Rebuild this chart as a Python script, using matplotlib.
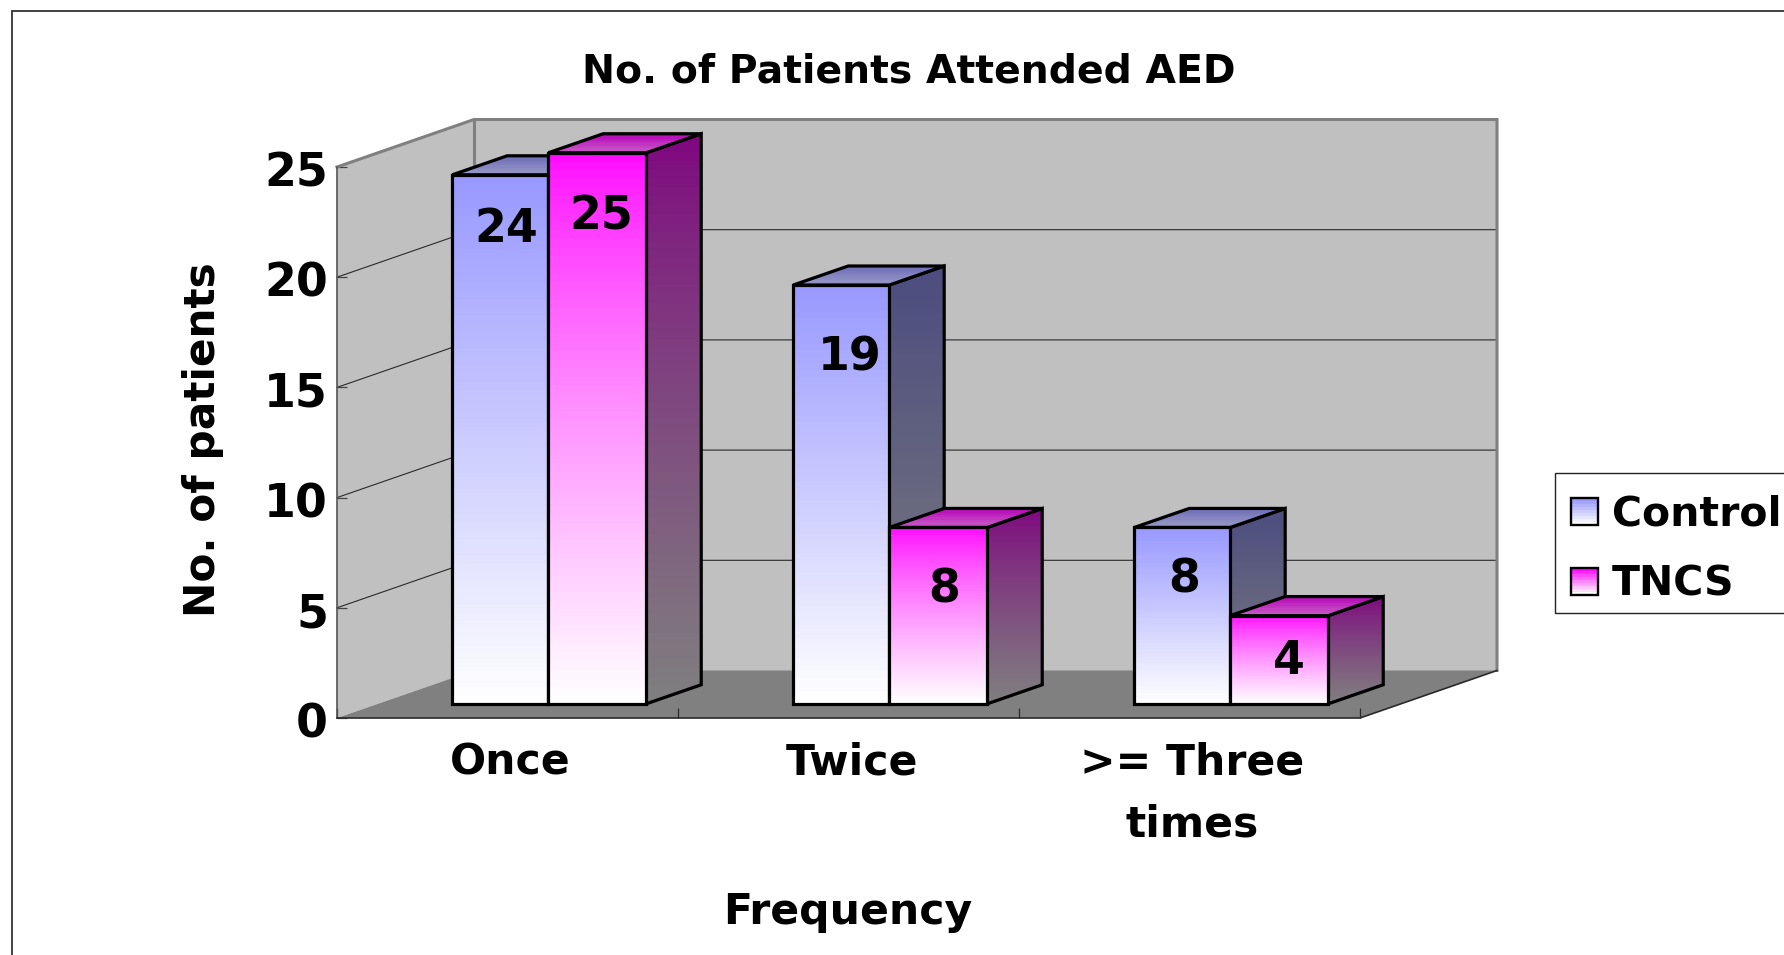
import numpy as np
import matplotlib
matplotlib.use("Agg")
import matplotlib.pyplot as plt
from matplotlib.patches import Polygon, Rectangle
from matplotlib.lines import Line2D
from matplotlib.transforms import ScaledTranslation

# ---- chart data ----
categories = ["Once", "Twice", ">= Three\ntimes"]
series_names = ["Control", "TNCS"]
control_values = [24, 19, 8]
tncs_values = [25, 8, 4]
y_ticks = [0, 5, 10, 15, 20, 25]

# value label offsets below each bar top, and sideways from the bar centre (pixels)
control_label_drop = [55, 73, 53]
tncs_label_drop = [64, 63, 46]
control_label_side = [6, 8, 2]
tncs_label_side = [4, 6, 9]

# ---- colours ----
WALL = "#c0c0c0"
FLOOR = "#808080"
EDGE = "#000000"
BLUE = np.array([0x99, 0x99, 0xff]) / 255
MAGENTA = np.array([0xff, 0x0c, 0xff]) / 255
WHITE = np.array([1.0, 1.0, 1.0])

FONT = "DejaVu Sans"
W, H = 1784, 955
fig = plt.figure(figsize=(W / 100, H / 100), dpi=100, facecolor="white")

# the axes rectangle is the front plane of the 3-D box
L, R, T, B = 337, 1360, 167, 718
ax = fig.add_axes([L / W, 1 - B / H, (R - L) / W, (B - T) / H])
ax.patch.set_visible(False)
for s in ax.spines.values():
    s.set_visible(False)

n_cat = len(categories)
y_max = max(y_ticks)
DX = 137 / ((R - L) / n_cat)      # box depth along x, in category units
DY = 47.5 / ((B - T) / y_max)     # box depth along y, in value units
BAR_W_CONTROL = 0.2815
BAR_W_TNCS = 0.2875
BAR_START = 0.2179
D_FRONT, D_BACK = 0.300, 0.700


def proj(x, y, d):
    return (x + d * DX, y + d * DY)


def poly(points, **kw):
    kw.setdefault("clip_on", False)
    p = Polygon(points, closed=True, **kw)
    ax.add_patch(p)
    return p


def gradient_face(points, top_col, bottom_col, z, bands=64, power=1.0):
    """Fill a polygon with a finely banded vertical gradient."""
    xs = [p[0] for p in points]
    ys = [p[1] for p in points]
    t = (np.linspace(0, 1, bands)[:, None]) ** power
    img = (top_col[None, :] * (1 - t) + bottom_col[None, :] * t)[:, None, :]
    im = ax.imshow(img, extent=[min(xs), max(xs), min(ys), max(ys)], origin="upper",
                   aspect="auto", interpolation="nearest", zorder=z)
    clip = poly(points, facecolor="none", edgecolor="none", zorder=z)
    im.set_clip_box(fig.bbox)
    im.set_clip_path(clip)
    poly(points, facecolor="none", edgecolor=EDGE, linewidth=2.3,
         joinstyle="miter", zorder=z + 0.1)


def bar3d(x0, width, value, colour, z, power):
    x1 = x0 + width
    f_bl = proj(x0, 0, D_FRONT)
    f_br = proj(x1, 0, D_FRONT)
    f_tl = proj(x0, value, D_FRONT)
    f_tr = proj(x1, value, D_FRONT)
    b_br = proj(x1, 0, D_BACK)
    b_tl = proj(x0, value, D_BACK)
    b_tr = proj(x1, value, D_BACK)
    # right-hand side, darker than the front
    gradient_face([f_br, b_br, b_tr, f_tr], colour * 0.5, WHITE * 0.5, z, power=power)
    # top face, fading towards the viewer
    gradient_face([f_tl, f_tr, b_tr, b_tl], colour * 0.72,
                  colour * 0.45 + WHITE * 0.33, z + 0.2, bands=8)
    # front face
    gradient_face([f_bl, f_br, f_tr, f_tl], colour, WHITE, z + 0.4, power=power)


# ---- box: side wall, back wall, floor, gridlines ----
corner_bl = proj(0, 0, 1)
corner_br = proj(n_cat, 0, 1)
corner_tl = proj(0, y_max, 1)
corner_tr = proj(n_cat, y_max, 1)
poly([(0, 0), corner_bl, corner_tl, (0, y_max)], facecolor=WALL, edgecolor="none", zorder=1)
poly([corner_bl, corner_br, corner_tr, corner_tl], facecolor=WALL, edgecolor="none", zorder=1)
poly([(0, 0), (n_cat, 0), corner_br, corner_bl], facecolor=FLOOR, edgecolor="none", zorder=1.2)

for v in y_ticks[1:-1]:
    back_l = proj(0, v, 1)
    back_r = proj(n_cat, v, 1)
    ax.add_line(Line2D([0, back_l[0], back_r[0]], [v, back_l[1], back_r[1]], color="#2a2a2a",
                       linewidth=0.8, clip_on=False, zorder=1.5))

# heavier grey rim around the back of the box
rim = dict(color="#808080", linewidth=2.2, clip_on=False, zorder=1.6, solid_joinstyle="miter")
ax.add_line(Line2D([0, corner_tl[0], corner_tr[0], corner_br[0]],
                   [y_max, corner_tl[1], corner_tr[1], corner_br[1]], **rim))
ax.add_line(Line2D([corner_tl[0], corner_bl[0]], [corner_tl[1], corner_bl[1]],
                   color="#808080", linewidth=2.2, clip_on=False, zorder=1.3))
ax.add_line(Line2D([0, 0], [0, y_max], color="#555555", linewidth=1.2, clip_on=False, zorder=1.7))
ax.add_line(Line2D([0, n_cat, corner_br[0]], [0, 0, corner_br[1]], color="#2a2a2a",
                   linewidth=1.2, clip_on=False, zorder=1.7))

# ---- bars and value labels ----
for i in range(n_cat):
    base = 10 + i * 2
    x_c = i + BAR_START
    x_t = x_c + BAR_W_CONTROL
    bar3d(x_c, BAR_W_CONTROL, control_values[i], BLUE, base, 1.0)
    bar3d(x_t, BAR_W_TNCS, tncs_values[i], MAGENTA, base + 1, 0.8)

for i in range(n_cat):
    for x0, width, vals, drop, side in (
        (i + BAR_START, BAR_W_CONTROL, control_values, control_label_drop, control_label_side),
        (i + BAR_START + BAR_W_CONTROL, BAR_W_TNCS, tncs_values, tncs_label_drop, tncs_label_side),
    ):
        anchor = proj(x0 + width / 2, vals[i], D_FRONT)
        ax.annotate(str(vals[i]), xy=anchor, xytext=(side[i] * 0.72, -drop[i] * 0.72),
                    textcoords="offset points", ha="center", va="center", fontsize=33,
                    fontweight="bold", family=FONT, color="black", zorder=30,
                    annotation_clip=False)

# ---- scales, ticks, labels ----
ax.set_xlim(0, n_cat)
ax.set_ylim(0, y_max)
ax.set_yticks(y_ticks)
ax.set_yticklabels([str(v) for v in y_ticks], fontsize=33, fontweight="bold", family=FONT)
ax.tick_params(axis="y", direction="in", length=7, width=0.9, color="#444444", pad=6.5)
ax.set_xticks(np.arange(n_cat) + 0.5)
ax.set_xticklabels(categories, fontsize=30.6, fontweight="bold", family=FONT, linespacing=1.6)
ax.set_xticks(np.arange(n_cat + 1), minor=True)
ax.tick_params(axis="x", which="major", length=0, pad=17)
ax.tick_params(axis="x", which="minor", direction="in", length=7, width=0.9, color="#2a2a2a")

# nudge the tick labels a few pixels to sit where the layout wants them
nudge_x = ScaledTranslation(3 / 100, 0, fig.dpi_scale_trans)
nudge_y = ScaledTranslation(0, -2 / 100, fig.dpi_scale_trans)
for t in ax.get_xticklabels():
    t.set_transform(t.get_transform() + nudge_x)
    t.set_zorder(30)
for t in ax.get_yticklabels():
    t.set_transform(t.get_transform() + nudge_y)
    t.set_zorder(30)

ax.set_xlabel("Frequency", fontsize=30.6, fontweight="bold", family=FONT)
ax.xaxis.set_label_coords((848 - L) / (R - L), -(912 - B) / (B - T))
ax.xaxis.label.set_va("center")
ax.set_ylabel("No. of patients", fontsize=30.4, fontweight="bold", family=FONT)
ax.yaxis.set_label_coords((203 - L) / (R - L), (B - 440) / (B - T))
ax.yaxis.label.set_va("center")
ax.set_title("No. of Patients Attended AED", fontsize=28.4, fontweight="bold", family=FONT,
             x=(909 - L) / (R - L), y=(B - 71) / (B - T), va="center", pad=0)

# ---- page overlay: outer frame and legend ----
page = fig.add_axes([0, 0, 1, 1], zorder=50)
page.set_xlim(0, W)
page.set_ylim(H, 0)
page.axis("off")
page.add_line(Line2D([12, 12, W], [H, 11, 11], color="#333333", linewidth=1.3,
                     solid_joinstyle="miter"))
page.add_patch(Rectangle((1555, 473), W - 1555 + 10, 140, facecolor="white",
                         edgecolor="#222222", linewidth=1.0, zorder=1))
swatches = [(498, BLUE), (568, MAGENTA)]
for (sy, colour), name in zip(swatches, series_names):
    t = np.linspace(0, 1, 9)[:, None]
    img = (colour[None, :] * (1 - t) + WHITE[None, :] * t)[:, None, :]
    page.imshow(img, extent=[1571, 1598, sy + 27, sy], aspect="auto",
                interpolation="nearest", zorder=2)
    page.add_patch(Rectangle((1571, sy), 27, 27, facecolor="none", edgecolor="black",
                             linewidth=1.7, zorder=3))
    page.text(1612, sy + 16.5, name, fontsize=29.5, fontweight="bold", family=FONT,
              ha="left", va="center", color="black", zorder=3)
page.set_xlim(0, W)
page.set_ylim(H, 0)

fig.savefig("out.png", dpi=100, facecolor="white")
